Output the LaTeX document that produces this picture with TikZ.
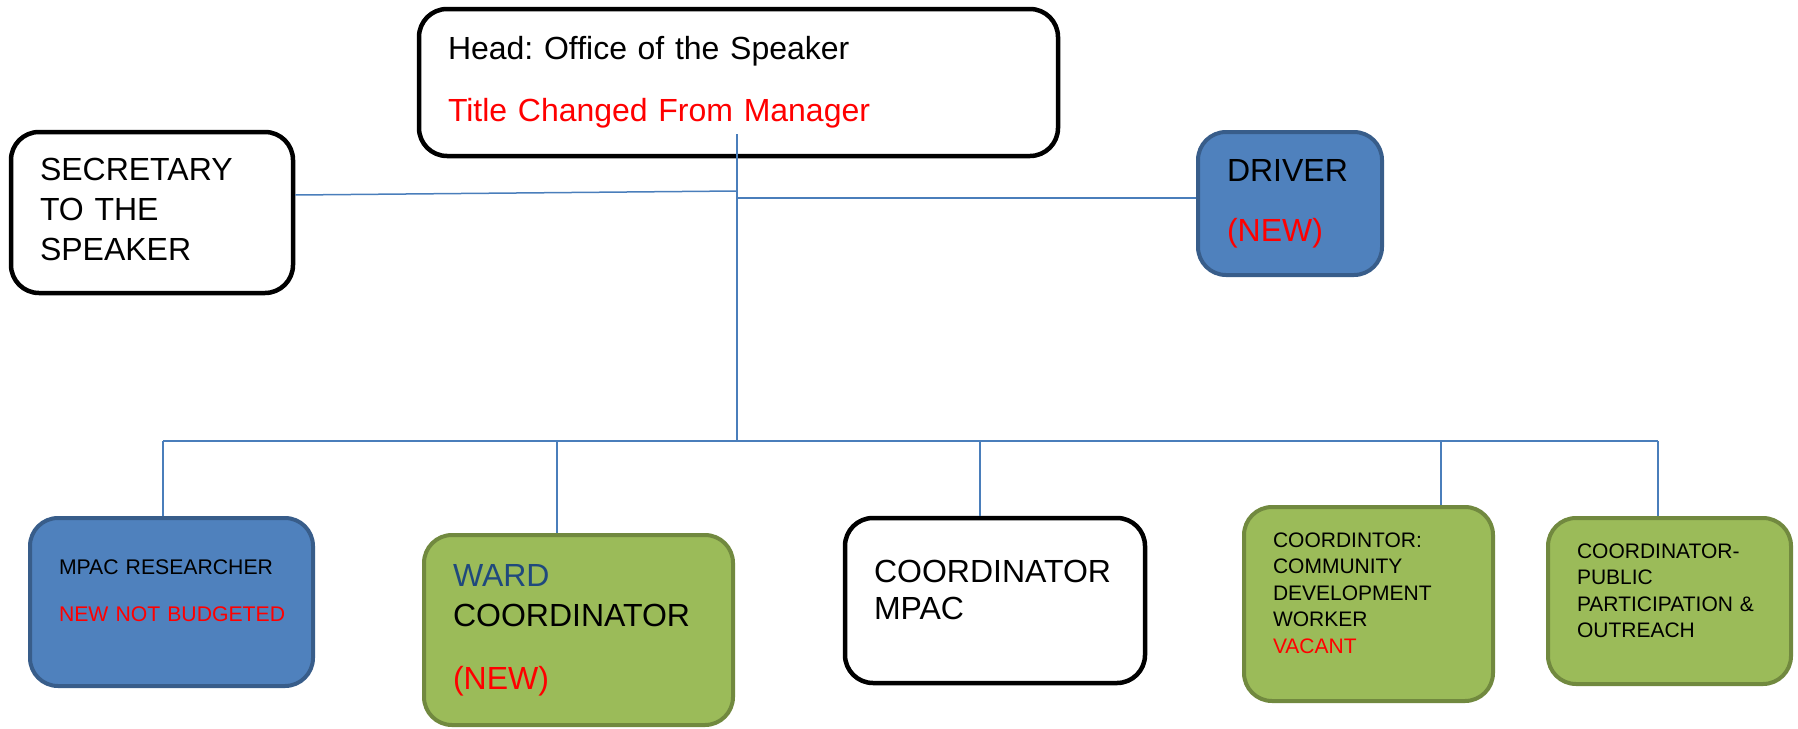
\documentclass[tikz,border=0pt]{standalone}
\usepackage{fontspec}
\setmainfont{Liberation Sans}
\frenchspacing
\usetikzlibrary{calc}

\definecolor{boxblue}{HTML}{4F81BD}
\definecolor{boxblueline}{HTML}{385D8A}
\definecolor{boxgreen}{HTML}{9BBB59}
\definecolor{boxgreenline}{HTML}{71893F}
\definecolor{wardblue}{HTML}{1F497D}
\definecolor{wirecol}{HTML}{4A7EBB}

\newcommand{\bigtxt}{\fontsize{16}{20}\selectfont}
\newcommand{\smalltxt}{\fontsize{10.5}{13.25}\selectfont}

\tikzstyle{post} = [rectangle, rounded corners=14pt, align=left, inner xsep=14.5pt, inner ysep=0pt, font=\bigtxt]
\tikzstyle{plainbox} = [post, draw=black, fill=white, line width=2.25pt]
\tikzstyle{bluebox} = [post, draw=boxblueline, fill=boxblue, line width=2pt]
\tikzstyle{greenbox} = [post, draw=boxgreenline, fill=boxgreen, line width=2pt]
\tikzstyle{wire} = [draw=wirecol, line width=0.75pt]

\begin{document}
\begin{tikzpicture}[x=0.5pt, y=-0.5pt]
        \useasboundingbox (0,0) rectangle (1798,728);
        % top row
        \node (head) [plainbox, text width=290.5pt, minimum height=73.5pt] at (738.5,82.5) {Head: Office of the Speaker\\[11pt]\textcolor{red}{Title Changed From Manager}};
        \node (sec) [plainbox, text width=112pt, minimum height=80.5pt] at (152,212.5) {SECRETARY\\TO THE\\SPEAKER\\[-17pt]\mbox{}};
        \node (driver) [bluebox, text width=63pt, minimum height=71.5pt] at (1290,203.5) {DRIVER\\[10pt]\textcolor{red}{(NEW)}};
        % bottom row
        \node (res) [bluebox, text width=112.5pt, minimum height=84pt, font=\fontsize{10.6}{13}\selectfont] at (171.5,602) {MPAC RESEARCHER\\[10.5pt]\mbox{\textcolor{red}{NEW NOT BUDGETED}}\\[-1.5pt]\mbox{}};
        \node (ward) [greenbox, text width=125.5pt, minimum height=95pt] at (578.5,630) {\textcolor{wardblue}{WARD}\\COORDINATOR\\[11.5pt]\textcolor{red}{(NEW)}};
        \node (mpac) [plainbox, text width=121pt, minimum height=82.5pt] at (995,600.5) {COORDINATOR\\[-1.5pt]MPAC\\[-9pt]\mbox{}};
        \node (cdw) [greenbox, text width=95.5pt, minimum height=97pt, font=\smalltxt] at (1368.5,604) {COORDINTOR:\\COMMUNITY\\DEVELOPMENT\\WORKER\\\textcolor{red}{VACANT}\\[-2pt]\mbox{}};
        \node (pub) [greenbox, text width=92.5pt, minimum height=83pt, font=\smalltxt] at (1669.5,601) {COORDINATOR-\\PUBLIC\\PARTICIPATION \&\\OUTREACH\\[-3pt]\mbox{}};
        % lines
        \coordinate (trunktop) at (737,134);
        \coordinate (secjoin) at (737,191);
        \coordinate (drvjoin) at (737,198);
        \coordinate (hub) at (737,441);
        \coordinate (busL) at (163,441);
        \coordinate (busR) at (1658,441);
        \draw [wire] (trunktop) -- (hub);
        \draw [wire] (sec.east |- 0,195) -- (secjoin);
        \draw [wire] (drvjoin) -- (driver.west |- drvjoin);
        \draw [wire] (busL) -- (busR);
        \foreach \x/\n in {163/res, 557/ward, 980/mpac, 1441/cdw, 1658/pub}
            \draw [wire] (\x,441) -- (\x,441 |- \n.north);
    \end{tikzpicture}
\end{document}
